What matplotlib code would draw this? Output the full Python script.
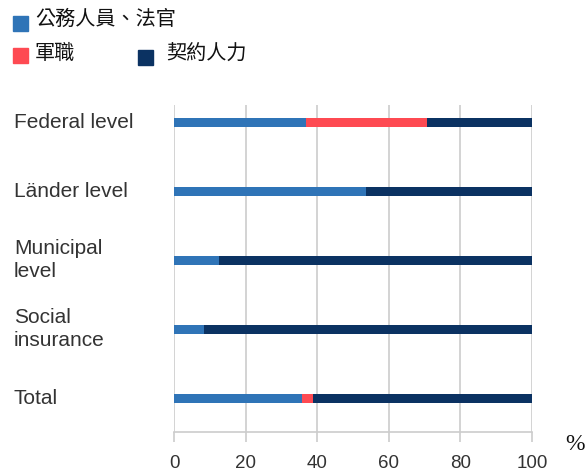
import matplotlib
matplotlib.use("Agg")
import matplotlib.pyplot as plt
import matplotlib.transforms as mtransforms
from matplotlib.patches import Rectangle

categories = ["Federal level", "Länder level", "Municipal\nlevel", "Social\ninsurance", "Total"]
series_names = ["公務人員、法官", "軍職", "契約人力"]
civil = [37.0, 53.7, 12.7, 8.3, 35.7]
military = [33.6, 0.0, 0.0, 0.0, 3.2]
contract = [29.4, 46.3, 87.3, 91.7, 61.1]
xticks = [0, 20, 40, 60, 80, 100]
colors = ["#2f74b7", "#fe4a52", "#0b3262"]

W, H = 587, 474
fig = plt.figure(figsize=(W / 100, H / 100), dpi=100)
ax = fig.add_axes([174 / W, 1 - 432 / H, (532 - 174) / W, (432 - 105) / H])

y = list(range(len(categories)))
bh = 0.13
left = [0.0] * len(categories)
for vals, col in zip([civil, military, contract], colors):
    ax.barh(y, vals, left=left, height=bh, color=col, zorder=3, linewidth=0)
    left = [l + v for l, v in zip(left, vals)]

ax.set_xlim(0, 100)
ax.set_ylim(4.49, -0.254)
ax.set_xticks(xticks)
ax.set_xticklabels([str(t) for t in xticks], fontsize=13.5, family="Liberation Sans", color="#333333")
ax.set_yticks([])
ax.grid(axis="x", color="#cccccc", linewidth=1.2, zorder=0)
for s in ["top", "right", "left"]:
    ax.spines[s].set_visible(False)
ax.spines["bottom"].set_color("#cccccc")
ax.spines["bottom"].set_linewidth(1.2)
ax.tick_params(axis="x", length=7.2, width=1.2, color="#cccccc", pad=9)

trans = mtransforms.blended_transform_factory(fig.transFigure, ax.transData)
for yi, lab in zip(y, categories):
    ax.text(14 / W, yi, lab, transform=trans, ha="left", va="center",
            fontsize=15, family="Liberation Sans", color="#333333", linespacing=1.25)

fig.text(565 / W, 1 - 444 / H, "%", fontsize=17, family="Liberation Serif",
         ha="left", va="center", color="#111111")

# legend (manual)
cjk = ["Noto Sans CJK TC", "DejaVu Sans"]
legend_pos = [(13, 16, 35, 19), (13, 48, 35, 53), (138, 50, 166, 53)]
for (sx, sy, tx, ty), name, col in zip(legend_pos, series_names, colors):
    fig.patches.append(Rectangle((sx / W, 1 - (sy + 15) / H), 15 / W, 15 / H,
                                 transform=fig.transFigure, color=col, figure=fig))
    fig.text(tx / W, 1 - ty / H, name, family=cjk, fontsize=14.5, ha="left", va="center",
             color="#111111")

fig.savefig("out.png", dpi=100)
